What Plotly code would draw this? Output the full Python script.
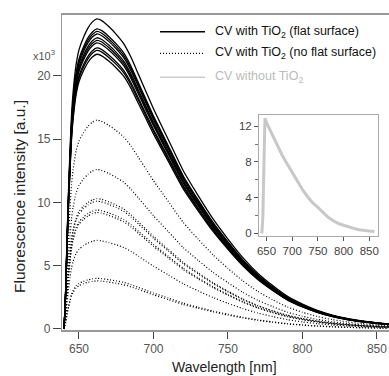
import plotly.graph_objects as go

# ---- data ----
# normalised spectral profile shared by the CV+TiO2 curves (wavelength nm -> relative intensity)
WL = [640, 641, 642, 643, 644, 645, 646, 648, 650, 653, 656, 659, 662, 665, 670, 675, 680,
      685, 690, 695, 700, 710, 720, 730, 740, 750, 760, 770, 780, 790, 800, 810, 820,
      830, 840, 850, 858]
PROFILE = [0.0, 0.12, 0.30, 0.45, 0.58, 0.69, 0.76, 0.85, 0.90, 0.94, 0.97, 0.99, 1.00, 0.995,
           0.975, 0.95, 0.92, 0.875, 0.82, 0.765, 0.71, 0.61, 0.51, 0.43, 0.355, 0.29, 0.23,
           0.18, 0.14, 0.105, 0.08, 0.06, 0.045, 0.034, 0.026, 0.02, 0.016]

# peak intensities (a.u.)
SOLID_PEAKS = [24500, 23700, 23500, 23300, 23000, 22800, 22600, 22200, 22000, 21700]
DOTTED_PEAKS = [16500, 12600, 10300, 10100, 9400, 9200, 7000, 4000, 3800]

# inset: CV without TiO2
INSET_WL = [641, 643, 644, 645, 646, 647, 650, 660, 670, 680, 690, 700, 710, 720, 730, 740,
            750, 760, 770, 780, 790, 800, 810, 820, 830, 840, 850, 860]
INSET_VAL = [0.0, 2.0, 5.0, 9.0, 12.0, 12.9, 12.4, 11.2, 10.0, 8.8, 7.8, 6.8, 5.8, 4.9, 4.1,
             3.4, 2.9, 2.3, 1.8, 1.4, 1.1, 0.9, 0.7, 0.55, 0.4, 0.3, 0.25, 0.2]

Y_TICKS = [0, 5000, 10000, 15000, 20000]
Y_TICKTEXT = ["0", "5", "10", "15", "20"]
X_TICKS = [650, 700, 750, 800, 850]
INSET_YTICKS = [0, 4, 8, 12]

LEGEND_LABELS = ["CV with TiO<sub>2</sub> (flat surface)",
                 "CV with TiO<sub>2</sub> (no flat surface)",
                 "CV without TiO<sub>2</sub>"]

FONT = "Liberation Sans, Arial, sans-serif"
DOT = "1px,2px"

fig = go.Figure()

for p in DOTTED_PEAKS:
    fig.add_trace(go.Scatter(x=WL, y=[p * v for v in PROFILE], mode="lines",
                             line=dict(color="black", width=1.2, dash=DOT, shape="spline", smoothing=0.5),
                             showlegend=False, hoverinfo="skip"))
for p in SOLID_PEAKS:
    fig.add_trace(go.Scatter(x=WL, y=[p * v for v in PROFILE], mode="lines",
                             line=dict(color="black", width=1.3, shape="spline", smoothing=0.5),
                             showlegend=False, hoverinfo="skip"))

fig.add_trace(go.Scatter(x=INSET_WL, y=INSET_VAL, mode="lines", xaxis="x2", yaxis="y2",
                         line=dict(color="#c8c8c8", width=3), showlegend=False, hoverinfo="skip"))

W, H = 389, 376
L, R, T, B = 62, 0, 15, 46
pw, ph = W - L - R, H - T - B


def px2paper(x, y):
    return (x - L) / pw, (H - B - y) / ph


fig.update_layout(
    width=W, height=H,
    margin=dict(l=L, r=R, t=T, b=B),
    paper_bgcolor="white", plot_bgcolor="white",
    font=dict(family=FONT, size=12, color="#444"),
    xaxis=dict(range=[638.6, 858.1], tickvals=X_TICKS, ticks="outside", ticklen=7,
               tickcolor="#444", showgrid=False, zeroline=False, showline=True,
               linecolor="#999", linewidth=1.5, mirror=True,
               tickfont=dict(size=12, color="#555")),
    yaxis=dict(range=[-80, 24800], tickvals=Y_TICKS, ticktext=Y_TICKTEXT, ticks="outside",
               ticklen=8, tickcolor="#444", showgrid=False, zeroline=False, showline=True,
               linecolor="#999", linewidth=1.2, tickfont=dict(size=12, color="#555")),
    xaxis2=dict(domain=[px2paper(259, 0)[0], px2paper(378.3, 0)[0]], anchor="y2",
                range=[635.4, 867.5], tickvals=X_TICKS, ticks="outside", ticklen=4,
                tickcolor="#555", showgrid=False, zeroline=False, showline=True,
                linecolor="#aaa", linewidth=1, mirror=True,
                tickfont=dict(size=11.5, color="#444")),
    yaxis2=dict(domain=[px2paper(0, 236)[1], px2paper(0, 115)[1]], anchor="x2",
                range=[-0.3, 13.25], tickvals=INSET_YTICKS, ticks="outside", ticklen=4,
                tickcolor="#555", showgrid=False, zeroline=False, showline=True,
                linecolor="#aaa", linewidth=1, mirror=True,
                minor=dict(tickvals=[2, 6, 10], ticks="outside", ticklen=3, tickcolor="#777"),
                tickfont=dict(size=11.5, color="#444")),
)

annotations = []
shapes = []
# manual legend
rows_y = [31.7, 53.3, 77.3]
styles = [dict(color="black", width=1.6),
          dict(color="black", width=1.3, dash=DOT),
          dict(color="#cccccc", width=1.6)]
text_colors = ["#111", "#111", "#bbb"]
for lab, yy, st, tc in zip(LEGEND_LABELS, rows_y, styles, text_colors):
    x0, y0 = px2paper(160, yy)
    x1, _ = px2paper(205, yy)
    shapes.append(dict(type="line", xref="paper", yref="paper", x0=x0, x1=x1, y0=y0, y1=y0, line=st))
    tx, ty = px2paper(213, yy)
    annotations.append(dict(text=lab, xref="paper", yref="paper", x=tx, y=ty, xanchor="left",
                            yanchor="middle", showarrow=False,
                            font=dict(family=FONT, size=12.5, color=tc)))

# axis titles
ax, ay = px2paper(20, 197)
annotations.append(dict(text="Fluorescence intensity [a.u.]", xref="paper", yref="paper", x=ax, y=ay,
                        textangle=-90, showarrow=False, xanchor="center", yanchor="middle",
                        font=dict(family=FONT, size=15.5, color="#222")))
bx, by = px2paper(224, 367)
annotations.append(dict(text="Wavelength [nm]", xref="paper", yref="paper", x=bx, y=by,
                        showarrow=False, xanchor="center", yanchor="middle",
                        font=dict(family=FONT, size=14, color="#222")))
mx, my = px2paper(44, 55)
annotations.append(dict(text="x10<sup>3</sup>", xref="paper", yref="paper", x=mx, y=my,
                        showarrow=False, xanchor="center", yanchor="middle",
                        font=dict(family=FONT, size=11, color="#555")))

fig.update_layout(annotations=annotations, shapes=shapes)
fig.write_html("out.html", config={"displayModeBar": False},
               post_script="document.body.style.margin='0';document.body.style.overflow='hidden';")
